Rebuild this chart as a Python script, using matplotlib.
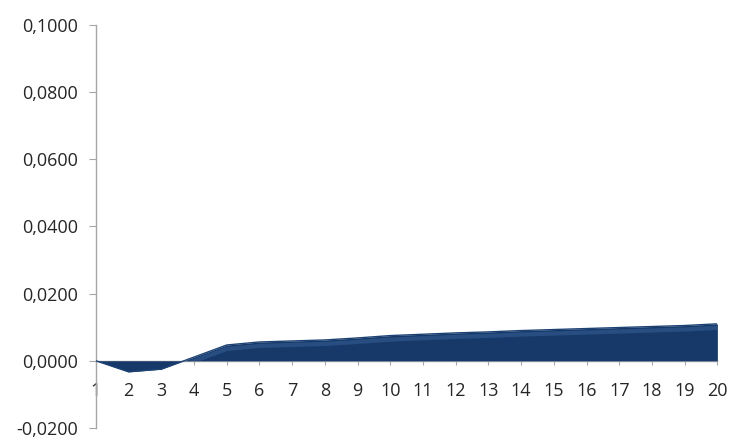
import matplotlib
matplotlib.use('Agg')
from matplotlib import pyplot as plt
from matplotlib import transforms
from matplotlib.ticker import FuncFormatter

# data
periods = list(range(1, 21))
values = [0.0, -0.0033, -0.0025, 0.0011, 0.0047, 0.0056, 0.0059, 0.0062,
          0.0068, 0.0075, 0.0079, 0.0083, 0.0086, 0.0090, 0.0093, 0.0096,
          0.0099, 0.0102, 0.0105, 0.0110]
y_ticks = [-0.02, 0.0, 0.02, 0.04, 0.06, 0.08, 0.10]


def comma_fmt(v, pos):
    return '{:.4f}'.format(v).replace('.', ',')


def main():
    plt.rcParams['font.family'] = ['Open Sans', 'DejaVu Sans']
    fig = plt.figure(figsize=(7.32, 4.38), dpi=100)
    ax = fig.add_axes([0.131, 0.023, 0.849, 0.92])

    # area, plus a lighter band just under the top edge for the bevel look
    poly = ax.fill_between(periods, values, 0, color='#16396a', lw=0, zorder=2)
    shifted = transforms.offset_copy(ax.transData, fig=fig, x=0, y=-4,
                                     units='dots')
    band, = ax.plot(periods, values, color='#3a6296', lw=3, alpha=0.5,
                    transform=shifted, zorder=3)
    band.set_clip_path(poly.get_paths()[0], ax.transData)
    ax.plot(periods, values, color='#1d4274', lw=1.0, zorder=4)

    ax.set_xlim(1, 20)
    ax.set_ylim(-0.02, 0.1)
    ax.set_yticks(y_ticks)
    ax.yaxis.set_major_formatter(FuncFormatter(comma_fmt))
    ax.set_xticks(periods)
    ax.set_xticklabels([str(p) for p in periods])

    for side in ['top', 'right']:
        ax.spines[side].set_visible(False)
    ax.spines['bottom'].set_position(('data', 0))
    ax.spines['bottom'].set_zorder(1)
    for side in ['left', 'bottom']:
        ax.spines[side].set_color('#a6a6a6')
        ax.spines[side].set_linewidth(1.0)

    ax.tick_params(axis='y', length=5, color='#a6a6a6', pad=8,
                   labelsize=13, labelcolor='#262626')
    ax.tick_params(axis='x', length=3, color='#a6a6a6', pad=12,
                   labelsize=13, labelcolor='#262626')

    fig.savefig('out.png', dpi=100)


if __name__ == '__main__':
    main()
